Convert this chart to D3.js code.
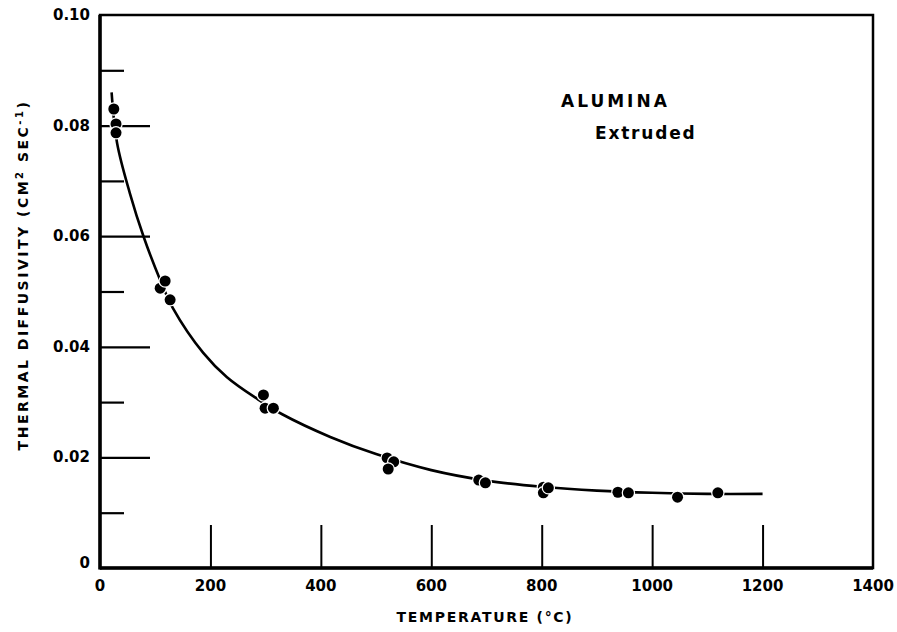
<!DOCTYPE html>
<html lang="en">
	<head>
		<meta charset="utf-8">
		<title>Alumina thermal diffusivity</title>
		<script type="text/javascript" src="https://cdn.jsdelivr.net/npm/d3@7/dist/d3.min.js"></script>
		<style type="text/css">
			body { margin: 0; background: white; }
			text {
				font-family: "DejaVu Sans", "Liberation Sans", sans-serif;
				font-weight: bold;
				fill: black;
			}
			.ticklabel { font-size: 15px; }
			.title { font-size: 14px; }
		</style>
	</head>
	<body>
		<script type="text/javascript">
			// measured points (temperature C, diffusivity cm2/sec)
			var tempC = [25, 29, 29, 109, 118, 127, 296, 299, 314, 520, 532, 522, 686, 698, 803, 803, 812, 938, 957, 1046, 1119];
			var diffusivity = [0.0830, 0.0803, 0.0787, 0.0506, 0.0519, 0.0485, 0.0313, 0.0289, 0.0289,
				0.0199, 0.0192, 0.0179, 0.0159, 0.0154, 0.0146, 0.0136, 0.0145, 0.0137, 0.0136, 0.0128, 0.0136];

			// fitted curve
			var curveT = [21, 31, 54, 79, 109, 132, 187, 230, 286, 330, 417, 500, 600, 700, 800, 900, 1000, 1100, 1200];
			var curveD = [0.0860, 0.0768, 0.0678, 0.0599, 0.0521, 0.0470, 0.0389, 0.0345, 0.0305, 0.0278,
				0.0237, 0.0206, 0.0177, 0.0158, 0.0147, 0.0140, 0.0136, 0.0134, 0.0134];

			var xTicks = [0, 200, 400, 600, 800, 1000, 1200, 1400];
			var yMajor = [0.02, 0.04, 0.06, 0.08];
			var yMinor = [0.01, 0.03, 0.05, 0.07, 0.09];
			var yLabels = [0, 0.02, 0.04, 0.06, 0.08, 0.10];

			var w = 897, h = 632;
			var padL = 100, padR = 873, padT = 15, padB = 568;

			var xScale = d3.scaleLinear().domain([0, 1400]).range([padL, padR]);
			var yScale = d3.scaleLinear().domain([0, 0.1]).range([padB, padT]);

			var svg = d3.select("body").append("svg").attr("width", w).attr("height", h);

			// frame
			svg.append("rect")
			   .attr("x", padL).attr("y", padT)
			   .attr("width", padR - padL).attr("height", padB - padT)
			   .style("fill", "none").style("stroke", "black").style("stroke-width", 2.5);
			svg.append("line").attr("x1", padL).attr("x2", padL).attr("y1", padT).attr("y2", padB + 1.5)
			   .style("stroke", "black").style("stroke-width", 3.5);
			svg.append("line").attr("x1", padL).attr("x2", padR).attr("y1", padB).attr("y2", padB)
			   .style("stroke", "black").style("stroke-width", 3.5);

			// inward ticks
			var yAxisMajor = d3.axisRight(yScale).tickValues(yMajor).tickSize(50).tickFormat("");
			var yAxisMinor = d3.axisRight(yScale).tickValues(yMinor).tickSize(24).tickFormat("");
			var xAxisTicks = d3.axisTop(xScale).tickValues(xTicks.slice(1, 7)).tickSize(43).tickFormat("");
			[yAxisMajor, yAxisMinor].forEach(function(ax) {
				var g = svg.append("g").attr("transform", "translate(" + padL + ",0)").call(ax);
				g.select(".domain").remove();
				g.selectAll("line").style("stroke", "black").style("stroke-width", 2.2);
			});
			var gx = svg.append("g").attr("transform", "translate(0," + padB + ")").call(xAxisTicks);
			gx.select(".domain").remove();
			gx.selectAll("line").style("stroke", "black").style("stroke-width", 2);

			// tick labels
			svg.selectAll(".xlab")
			   .data(xTicks)
			   .enter()
			   .append("text")
			   .attr("class", "ticklabel")
			   .attr("x", function(d) { return xScale(d); })
			   .attr("y", 591)
			   .attr("text-anchor", "middle")
			   .text(function(d) { return d; });
			svg.selectAll(".ylab")
			   .data(yLabels)
			   .enter()
			   .append("text")
			   .attr("class", "ticklabel")
			   .attr("x", 90)
			   .attr("y", function(d) { return yScale(d) + (d === 0 ? 0 : 5); })
			   .attr("text-anchor", "end")
			   .text(function(d) { return d === 0 ? "0" : d3.format(".2f")(d); });

			// fitted curve
			var line = d3.line()
			   .x(function(d, i) { return xScale(curveT[i]); })
			   .y(function(d) { return yScale(d); })
			   .curve(d3.curveCatmullRom.alpha(0.5));
			svg.append("path")
			   .datum(curveD)
			   .attr("d", line)
			   .style("fill", "none")
			   .style("stroke", "black")
			   .style("stroke-width", 2.6);

			// points, white halo breaks the curve
			svg.selectAll("circle")
			   .data(tempC)
			   .enter()
			   .append("circle")
			   .attr("cx", function(d) { return xScale(d); })
			   .attr("cy", function(d, i) { return yScale(diffusivity[i]); })
			   .attr("r", 5.5)
			   .style("fill", "black")
			   .style("stroke", "white")
			   .style("stroke-width", 2.5)
			   .style("paint-order", "stroke");

			// titles
			svg.append("text").attr("class", "title")
			   .attr("x", 485).attr("y", 622)
			   .attr("text-anchor", "middle")
			   .style("letter-spacing", "1.7px")
			   .text("TEMPERATURE (°C)");

			var yt = svg.append("text").attr("class", "title")
			   .attr("transform", "translate(28,275) rotate(-90)")
			   .attr("text-anchor", "middle")
			   .style("letter-spacing", "2.5px");
			yt.append("tspan").text("THERMAL DIFFUSIVITY  (CM");
			yt.append("tspan").attr("dy", -5).style("font-size", "10px").text("2");
			yt.append("tspan").attr("dy", 5).text(" SEC");
			yt.append("tspan").attr("dy", -5).style("font-size", "10px").text("-1");
			yt.append("tspan").attr("dy", 5).text(")");

			svg.append("text").attr("x", 561).attr("y", 107)
			   .style("font-size", "17px").style("letter-spacing", "3px")
			   .text("ALUMINA");
			svg.append("text").attr("x", 595).attr("y", 139)
			   .style("font-size", "17px").style("letter-spacing", "1.8px")
			   .text("Extruded");
		</script>
	</body>
</html>
